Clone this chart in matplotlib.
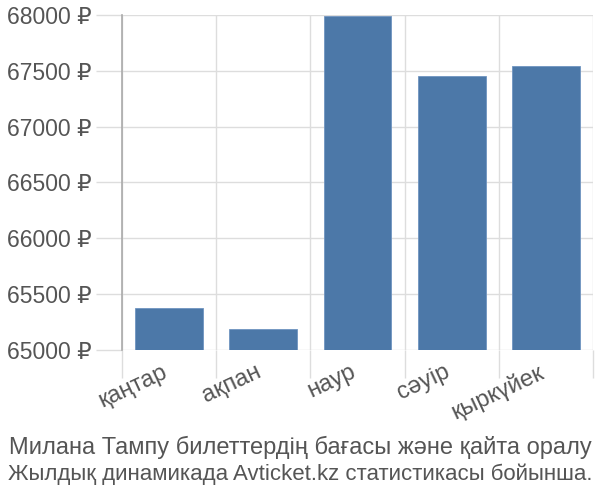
import matplotlib.pyplot as plt
import matplotlib.transforms as mtransforms
import numpy as np

months = ["қаңтар", "ақпан", "наур", "сәуір", "қыркүйек"]
prices = [65375, 65190, 67990, 67450, 67540]
y_ticks = [65000, 65500, 66000, 66500, 67000, 67500, 68000]
caption = ["Милана Тампу билеттердің бағасы және қайта оралу",
           "Жылдық динамикада Avticket.kz статистикасы бойынша."]

plt.rcParams["font.family"] = ["Liberation Sans", "DejaVu Sans"]

fig = plt.figure(figsize=(6, 5), dpi=100)
ax = fig.add_axes([0.2033, 0.30, 0.785, 0.67])

x = np.arange(len(months))
ax.bar(x, prices, width=0.72, color="#4c78a8", edgecolor="#6f94c0", linewidth=0.6, zorder=3)

ax.set_xlim(-0.5, len(months) - 0.5)
ax.set_ylim(65000, 68000)
ax.set_yticks(y_ticks)
ax.set_yticklabels([f"{v} ₽" for v in y_ticks], fontsize=16.5, color="#555555")
ax.set_xticks(x)
ax.set_xticklabels([])
ax.set_xticks(np.arange(len(months) + 1) - 0.5, minor=True)

# month labels drawn as rotated texts, anchored top-right just left of each bar centre
shift = mtransforms.ScaledTranslation(-0.08, -0.11, fig.dpi_scale_trans)
for xi, name in zip(x, months):
    ax.text(xi, 0, name, transform=ax.get_xaxis_transform() + shift,
            fontsize=17, color="#555555", rotation=25,
            ha="right", va="top", rotation_mode="anchor")

ax.tick_params(axis="x", which="major", length=0)
ax.tick_params(axis="x", which="minor", length=20, color="#dddddd", width=1)
ax.tick_params(axis="y", length=19, color="#dddddd", width=1, pad=3)

ax.grid(axis="y", color="#dddddd", linewidth=1, zorder=0)
ax.grid(axis="x", which="minor", color="#dddddd", linewidth=1, zorder=0)

for side in ["top", "right", "bottom"]:
    ax.spines[side].set_visible(False)
ax.spines["left"].set_color("#aaaaaa")
ax.spines["left"].set_linewidth(1.2)
ax.spines["left"].set_zorder(4)

fig.text(0.5, 0.105, caption[0], ha="center", va="center", fontsize=17, color="#555555")
fig.text(0.5, 0.052, caption[1], ha="center", va="center", fontsize=16, color="#555555")

fig.savefig("out.png", dpi=100)
